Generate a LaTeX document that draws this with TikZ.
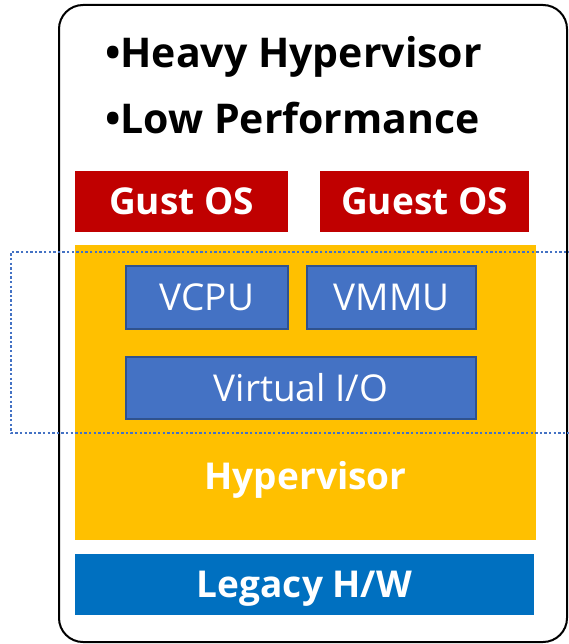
\documentclass[tikz,border=0pt]{standalone}
\usepackage{fontspec}
\setmainfont{Open Sans}
\definecolor{gustred}{HTML}{C00000}
\definecolor{hypyellow}{HTML}{FFC000}
\definecolor{vblue}{HTML}{4472C4}
\definecolor{vborder}{HTML}{2F528F}
\definecolor{hwblue}{HTML}{0070C0}
\tikzset{
  layer/.style={inner sep=0pt, text=white, text height=26pt, text depth=0pt,
    font=\bfseries\fontsize{37}{40}\selectfont},
  osbox/.style={layer, fill=gustred, minimum height=61pt},
  vbox/.style={draw=vborder, line width=1.5pt, fill=vblue, text=white, inner sep=0pt,
    text height=26pt, text depth=0pt, minimum height=61pt, font=\fontsize{37}{40}\selectfont},
  bullet/.style={anchor=base west, inner sep=0pt, font=\bfseries\fontsize{41}{44}\selectfont}
}
\begin{document}
\begin{tikzpicture}[x=1pt,y=-1pt]
  \useasboundingbox (0,0) rectangle (569,644);
  \clip (0,0) rectangle (569,644);

  % outer frame
  \draw[line width=2pt, rounded corners=24pt] (59,5) rectangle (567,642);

  % title lines
  \node[bullet] (heavy) at (105,68) {\textbullet Heavy Hypervisor};
  \node[bullet] (low) at (105,134) {\textbullet Low Performance};

  % guest systems
  \node[osbox, minimum width=213pt] (gust) at (181.5,201.5) {Gust OS};
  \node[osbox, minimum width=209pt] (guest) at (424.5,201.5) {Guest OS};

  % hypervisor layer
  \fill[hypyellow] (75,245) rectangle (536,540);
  \node[layer] (hyp) at (305.5,476) {Hypervisor};
  \node[vbox, minimum width=162pt, minimum height=63pt] (vcpu) at (207,297.5) {VCPU};
  \node[vbox, minimum width=169pt, minimum height=63pt] (vmmu) at (391.5,297.5) {VMMU};
  \node[vbox, minimum width=350pt, minimum height=62pt] (vio) at (301,388) {Virtual I/O};

  % hardware
  \node[layer, fill=hwblue, minimum width=459pt, minimum height=61pt] (hw) at (304.5,584.5) {Legacy H/W};

  % dotted marker
  \draw[vblue, line width=2.6pt, dash pattern=on 2.4pt off 2.2pt] (580,252) -- (11,252) -- (11,433) -- (580,433);
\end{tikzpicture}
\end{document}
